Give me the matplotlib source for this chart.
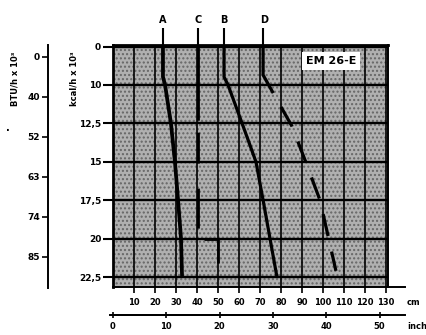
import numpy as np
import matplotlib
matplotlib.use('Agg')
import matplotlib.pyplot as plt
from matplotlib.ticker import NullLocator
from matplotlib.patches import Rectangle

plt.rcParams['font.family'] = ['DejaVu Sans']
plt.rcParams['font.weight'] = 'bold'
plt.rcParams['lines.scale_dashes'] = False
plt.rcParams['hatch.linewidth'] = 1.0

# kcal/h scale (rows are equally spaced, values are not)
kcal_ticks = [0, 10, 12.5, 15, 17.5, 20, 22.5]
kcal_labels = ['0', '10', '12,5', '15', '17,5', '20', '22,5']
btu_labels = ['0', '40', '52', '63', '74', '85']
cm_ticks = [10, 20, 30, 40, 50, 60, 70, 80, 90, 100, 110, 120, 130]
inch_ticks = [0, 10, 20, 30, 40, 50]

# curves: kcal/h x10^3 vs cm
A_kcal = [0, 7.9, 10, 12.5, 15, 17.5, 20, 22.5]
A_cm = [23.8, 23.8, 24.8, 27.6, 29.5, 31.0, 32.4, 32.9]
B_kcal = [0, 7.9, 10, 12.5, 15, 17.5, 20, 22.5]
B_cm = [52.9, 52.9, 54.8, 61.5, 68.1, 71.5, 74.8, 78.1]
C_kcal = [0, 20, 20, 21.6]
C_cm = [40.3, 40.3, 49.9, 49.9]
D_kcal = [0, 7.4, 10.5, 12.7, 14.9, 17.5, 19.8, 22.1]
D_cm = [71.5, 71.5, 76.2, 85.3, 91.5, 98.6, 102.4, 106.2]
curve_names = ['A', 'C', 'B', 'D']
curve_label_cm = [23.8, 40.4, 52.7, 72.0]
leader_top_kcal = -4.8

scale_kcal = [-10] + kcal_ticks + [25]
scale_row = [-1, 0, 1, 2, 3, 4, 5, 6, 7]


def fwd(v):
    return np.interp(v, scale_kcal, scale_row)


def inv(r):
    return np.interp(r, scale_row, scale_kcal)


W, H = 426, 335
fig = plt.figure(figsize=(W / 100, H / 100), dpi=100)
ax = fig.add_axes([113 / W, 48 / H, 275 / W, 242 / H])

# speckled grey paper
ax.set_facecolor('#b0b0b0')
ax.add_patch(Rectangle((0, 0), 1, 1, transform=ax.transAxes, facecolor='none',
                       edgecolor='#666666', hatch='....', lw=0, zorder=0.1))

ax.set_yscale('function', functions=(fwd, inv))
ax.set_xlim(0, 131)
ax.set_ylim(23.15, -0.4)
ax.set_yticks(kcal_ticks)
ax.set_yticklabels(kcal_labels)
ax.yaxis.set_minor_locator(NullLocator())
ax.set_xticks(cm_ticks)
ax.set_xticklabels([str(v) for v in cm_ticks])
ax.tick_params(axis='y', length=7, width=1.5, pad=1.5, labelsize=6.5, color='black')
ax.tick_params(axis='x', length=4, width=1.2, pad=4, labelsize=6, color='black')
ax.set_axisbelow(True)
ax.yaxis.grid(True, color='black', lw=1.7)
ax.xaxis.grid(True, color='black', lw=1.2)
for side, w in [('left', 2.0), ('top', 2.0), ('right', 1.4), ('bottom', 1.4)]:
    ax.spines[side].set_linewidth(w)

# leader lines from the letters down to the chart
for xc in [A_cm[0], B_cm[0], C_cm[0], D_cm[0]]:
    ax.plot([xc, xc], [leader_top_kcal, 0], color='black', lw=1.5, clip_on=False,
            solid_capstyle='butt')

# curves
ax.plot(A_cm, A_kcal, color='black', lw=2.7, solid_capstyle='butt', clip_on=False)
ax.plot(B_cm, B_kcal, color='black', lw=2.3, solid_capstyle='butt', clip_on=False)
ax.plot(C_cm, C_kcal, color='black', lw=2.0, clip_on=False,
        linestyle=(13.3, (66, 8.6, 22.3, 18, 28.8, 12.2, 27.4, 40)))
ax.plot(D_cm, D_kcal, color='black', lw=2.3, clip_on=False,
        linestyle=(13.3, (48.7, 11.5, 16.2, 11.5, 16.2, 11.5, 16.2, 11.5, 16.2, 11.5, 16.2, 11.5)))

for name, xc in zip(curve_names, curve_label_cm):
    ax.text(xc, 1.103, name, transform=ax.get_xaxis_transform(), ha='center',
            va='center', fontsize=7, fontweight='bold')

ax.text(0.793, 0.934, 'EM 26-E', transform=ax.transAxes, ha='center', va='center',
        fontsize=8, fontweight='bold',
        bbox=dict(facecolor='white', edgecolor='none', boxstyle='square,pad=0.35'))

# cm axis extension and unit
ax.plot([131, 139], [0, 0], color='black', lw=1.4, transform=ax.get_xaxis_transform(),
        clip_on=False)
ax.text(143, -0.066, 'cm', transform=ax.get_xaxis_transform(), ha='center', va='center',
        fontsize=6)

# inch axis
sec = ax.secondary_xaxis(-0.116, functions=(lambda x: x / 2.54, lambda x: x * 2.54))
sec.set_xticks(inch_ticks)
sec.tick_params(direction='inout', length=5, width=1.2, pad=2.5, labelsize=6)
sec.spines['bottom'].set_linewidth(1.4)
ax.plot([-1.4, 139], [-0.116, -0.116], color='black', lw=1.4,
        transform=ax.get_xaxis_transform(), clip_on=False)
ax.text(145, -0.165, 'inch', transform=ax.get_xaxis_transform(), ha='center',
        va='center', fontsize=6)

# BTU/h axis
ax_btu = fig.add_axes([48 / W, 47 / H, 0.0001, 243 / H])
ax_btu.set_facecolor('none')
ax_btu.set_ylim(5.775, -0.3)
ax_btu.set_yticks(range(len(btu_labels)))
ax_btu.set_yticklabels(btu_labels)
ax_btu.set_xticks([])
for side in ['right', 'top', 'bottom']:
    ax_btu.spines[side].set_visible(False)
ax_btu.spines['left'].set_linewidth(1.4)
ax_btu.tick_params(axis='y', length=4.5, width=1.2, pad=1.5, labelsize=6.5)

fig.text(74 / W, 1 - 79 / H, 'kcal/h x 10³', rotation=90, ha='center', va='center',
         fontsize=6)
fig.text(15 / W, 1 - 79 / H, 'BTU/h x 10³', rotation=90, ha='center', va='center',
         fontsize=6)
fig.text(8 / W, 1 - 128 / H, '.', ha='center', va='center', fontsize=7)

fig.savefig('out.png', dpi=100)
